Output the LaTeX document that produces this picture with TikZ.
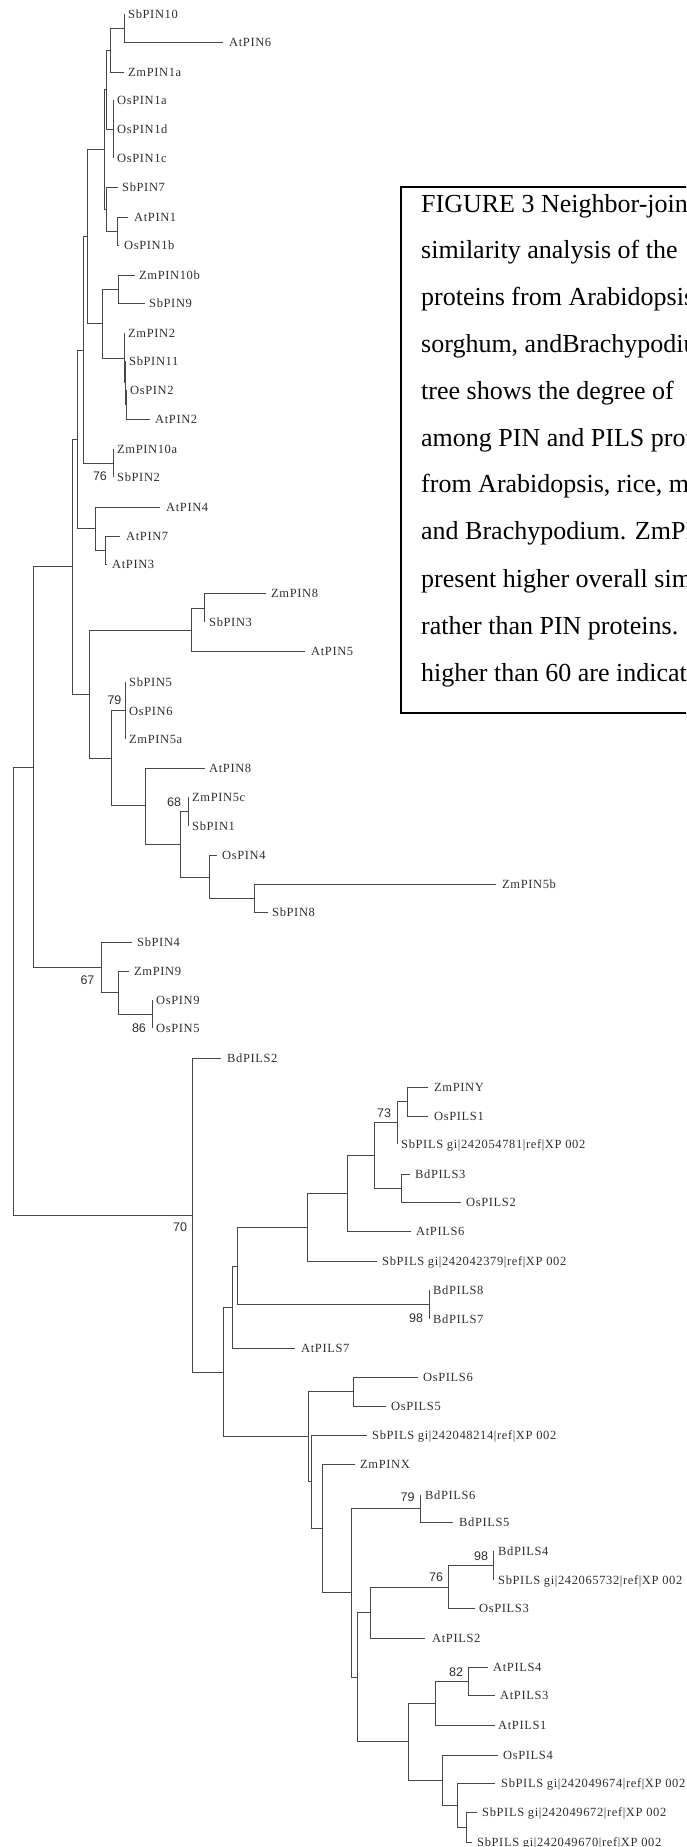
\documentclass[tikz,border=0pt]{standalone}
\usepackage{fontspec}
\setmainfont{Liberation Serif}
\newfontfamily\treefont[LetterSpace=5]{Liberation Serif}
\newfontfamily\bsfont{Liberation Sans}
\newcommand\lf[6]{\node[lbl] (#1) at ({#3+#4},#5) {#6};\draw[br,shorten >=#4pt] (#2) |- (#1.west);}
\begin{document}
\begin{tikzpicture}[x=1pt,y=-1pt,
  br/.style={draw=black!72,line width=1pt},
  lbl/.style={anchor=west,inner sep=0pt,text height=8pt,text depth=0pt,font=\treefont\fontsize{12.5}{14}\selectfont,text=black!82},
  bs/.style={inner sep=0pt,font=\bsfont\fontsize{12.5}{14}\selectfont,text=black!82},
  captxt/.style={anchor=base west,inner sep=0pt,font=\fontsize{26}{30}\selectfont}]
\useasboundingbox (0,0) rectangle (686,1847);
\begin{scope}
\clip (0,0) rectangle (686,1847);
% ---------- internal nodes ----------
\coordinate (A) at (124,28);
\coordinate (B) at (110,50);
\coordinate (C) at (113,129);
\coordinate (D) at (106,89.5);
\coordinate (F) at (117,231);
\coordinate (E) at (106,209);
\coordinate (G) at (104,149.5);
\coordinate (J) at (118,289);
\coordinate (K3) at (126,404.5);
\coordinate (K2) at (125,382.75);
\coordinate (K) at (124,358);
\coordinate (I) at (102,323.5);
\coordinate (H) at (87,236.5);
\coordinate (N76) at (113,463);
\coordinate (N) at (83,350);
\coordinate (M) at (105,550);
\coordinate (L) at (95,528.5);
\coordinate (O) at (77,439);
\coordinate (S) at (204,608.5);
\coordinate (R) at (191,630);
\coordinate (T) at (125,710.5);
\coordinate (Z) at (188,811);
\coordinate (AB) at (254,898.5);
\coordinate (AA) at (209,877);
\coordinate (Y) at (180,844);
\coordinate (X) at (145,805.5);
\coordinate (U) at (111,758);
\coordinate (Q) at (89,694);
\coordinate (P) at (72,566.5);
\coordinate (AD) at (152,1014);
\coordinate (AC) at (118,992.5);
\coordinate (W) at (101,967);
\coordinate (V) at (33,767);
\coordinate (root) at (13,991);
\coordinate (BA) at (407,1101.5);
\coordinate (BB) at (397,1122.5);
\coordinate (BD) at (401,1188);
\coordinate (BC) at (374,1155.5);
\coordinate (BE) at (347,1193.5);
\coordinate (BF) at (307,1227.5);
\coordinate (N98) at (429,1304.5);
\coordinate (AH) at (237,1266);
\coordinate (AG) at (232,1307);
\coordinate (AJ) at (353,1391.5);
\coordinate (AM) at (420,1508.5);
\coordinate (AR) at (493,1565.5);
\coordinate (AQ) at (448,1587);
\coordinate (AP) at (370,1612.5);
\coordinate (AS) at (468,1681);
\coordinate (AT) at (435,1703);
\coordinate (AX) at (466,1827);
\coordinate (AW) at (457,1805);
\coordinate (AV) at (442,1780);
\coordinate (AU) at (408,1741.5);
\coordinate (AO) at (357,1677);
\coordinate (AN) at (351,1592.5);
\coordinate (AL) at (322,1528);
\coordinate (AK) at (311,1481.5);
\coordinate (AI) at (308,1436.5);
\coordinate (AF) at (223,1372);
\coordinate (AE) at (192,1215);
% ---------- internal branches ----------
\draw[br] (B) |- (A);
\draw[br] (D) |- (B); \draw[br] (D) |- (C);
\draw[br] (E) |- (F);
\draw[br] (G) |- (D); \draw[br] (G) |- (E);
\draw[br] (H) |- (G); \draw[br] (H) |- (I);
\draw[br] (I) |- (J); \draw[br] (I) |- (K);
\draw[br] (K) |- (K2); \draw[br] (K2) |- (K3);
\draw[br] (N) |- (H); \draw[br] (N) |- (N76);
\draw[br] (O) |- (N); \draw[br] (O) |- (L);
\draw[br] (L) |- (M);
\draw[br] (P) |- (O); \draw[br] (P) |- (Q);
\draw[br] (Q) |- (R); \draw[br] (Q) |- (U);
\draw[br] (R) |- (S);
\draw[br] (U) |- (T); \draw[br] (U) |- (X);
\draw[br] (X) |- (Y);
\draw[br] (Y) |- (Z); \draw[br] (Y) |- (AA);
\draw[br] (AA) |- (AB);
\draw[br] (V) |- (P); \draw[br] (V) |- (W);
\draw[br] (W) |- (AC); \draw[br] (AC) |- (AD);
\draw[br] (root) |- (V); \draw[br] (root) |- (AE);
\draw[br] (AE) |- (AF);
\draw[br] (AF) |- (AG); \draw[br] (AF) |- (AI);
\draw[br] (AG) |- (AH);
\draw[br] (AH) |- (BF); \draw[br] (AH) |- (N98);
\draw[br] (BF) |- (BE);
\draw[br] (BE) |- (BC);
\draw[br] (BC) |- (BB); \draw[br] (BC) |- (BD);
\draw[br] (BB) |- (BA);
\draw[br] (AI) |- (AJ); \draw[br] (AI) |- (AK);
\draw[br] (AK) |- (AL);
\draw[br] (AL) |- (AN);
\draw[br] (AN) |- (AM); \draw[br] (AN) |- (AO);
\draw[br] (AO) |- (AP); \draw[br] (AO) |- (AU);
\draw[br] (AP) |- (AQ);
\draw[br] (AQ) |- (AR);
\draw[br] (AU) |- (AT); \draw[br] (AU) |- (AV);
\draw[br] (AT) |- (AS);
\draw[br] (AV) |- (AW);
\draw[br] (AW) |- (AX);
% ---------- leaves ----------
\lf{sbpin10}{A}{124}{4}{14}{SbPIN10}
\lf{atpin6}{A}{223}{6}{42}{AtPIN6}
\lf{zmpin1a}{B}{124}{4}{72}{ZmPIN1a}
\lf{ospin1a}{C}{113}{4}{100}{OsPIN1a}
\lf{ospin1d}{C}{113}{4}{129}{OsPIN1d}
\lf{ospin1c}{C}{113}{4}{158}{OsPIN1c}
\lf{sbpin7}{E}{118}{4}{187}{SbPIN7}
\lf{atpin1}{F}{128}{6}{217}{AtPIN1}
\lf{ospin1b}{F}{119}{5}{245}{OsPIN1b}
\lf{zmpin10b}{J}{135}{4}{275}{ZmPIN10b}
\lf{sbpin9}{J}{145}{4}{303}{SbPIN9}
\lf{zmpin2}{K}{124}{4}{333}{ZmPIN2}
\lf{sbpin11}{K2}{125}{4}{361}{SbPIN11}
\lf{ospin2}{K3}{126}{4}{390}{OsPIN2}
\lf{atpin2}{K3}{150}{5}{419}{AtPIN2}
\lf{zmpin10a}{N76}{113}{4}{449}{ZmPIN10a}
\lf{sbpin2}{N76}{113}{4}{477}{SbPIN2}
\lf{atpin4}{L}{160}{6}{507}{AtPIN4}
\lf{atpin7}{M}{120}{6}{536}{AtPIN7}
\lf{atpin3}{M}{107}{5}{564}{AtPIN3}
\lf{zmpin8}{S}{266}{5}{593}{ZmPIN8}
\lf{sbpin3}{S}{204}{5}{622}{SbPIN3}
\lf{atpin5}{R}{305}{6}{651}{AtPIN5}
\lf{sbpin5}{T}{125}{4}{682}{SbPIN5}
\lf{ospin6}{T}{125}{4}{711}{OsPIN6}
\lf{zmpin5a}{T}{125}{4}{739}{ZmPIN5a}
\lf{atpin8}{X}{205}{4}{768}{AtPIN8}
\lf{zmpin5c}{Z}{188}{4}{797}{ZmPIN5c}
\lf{sbpin1}{Z}{188}{4}{826}{SbPIN1}
\lf{ospin4}{AA}{217}{5}{855}{OsPIN4}
\lf{zmpin5b}{AB}{496}{6}{884}{ZmPIN5b}
\lf{sbpin8}{AB}{268}{4}{912}{SbPIN8}
\lf{sbpin4}{W}{132}{5}{942}{SbPIN4}
\lf{zmpin9}{AC}{129}{5}{971}{ZmPIN9}
\lf{ospin9}{AD}{152}{4}{1000}{OsPIN9}
\lf{ospin5}{AD}{152}{4}{1028}{OsPIN5}
\lf{bdpils2}{AE}{221}{6}{1058}{BdPILS2}
\lf{zmpiny}{BA}{428}{6}{1087}{ZmPINY}
\lf{ospils1}{BA}{428}{6}{1116}{OsPILS1}
\lf{sbpilsa}{BB}{397}{4}{1144}{SbPILS gi|242054781|ref|XP 002}
\lf{bdpils3}{BD}{410}{5}{1174}{BdPILS3}
\lf{ospils2}{BD}{461}{5}{1202}{OsPILS2}
\lf{atpils6}{BE}{411}{5}{1231}{AtPILS6}
\lf{sbpilsb}{BF}{377}{5}{1261}{SbPILS gi|242042379|ref|XP 002}
\lf{bdpils8}{N98}{429}{4}{1290}{BdPILS8}
\lf{bdpils7}{N98}{429}{4}{1319}{BdPILS7}
\lf{atpils7}{AG}{295}{6}{1348}{AtPILS7}
\lf{ospils6}{AJ}{418}{5}{1377}{OsPILS6}
\lf{ospils5}{AJ}{386}{5}{1406}{OsPILS5}
\lf{sbpilsc}{AK}{367}{5}{1435}{SbPILS gi|242048214|ref|XP 002}
\lf{zmpinx}{AL}{355}{5}{1464}{ZmPINX}
\lf{bdpils6}{AM}{420}{5}{1495}{BdPILS6}
\lf{bdpils5}{AM}{453}{6}{1522}{BdPILS5}
\lf{bdpils4}{AR}{493}{5}{1551}{BdPILS4}
\lf{sbpilsd}{AR}{493}{5}{1580}{SbPILS gi|242065732|ref|XP 002}
\lf{ospils3}{AQ}{475}{4}{1608}{OsPILS3}
\lf{atpils2}{AP}{425}{7}{1638}{AtPILS2}
\lf{atpils4}{AS}{488}{5}{1667}{AtPILS4}
\lf{atpils3}{AS}{495}{5}{1695}{AtPILS3}
\lf{atpils1}{AT}{495}{3}{1725}{AtPILS1}
\lf{ospils4}{AV}{498}{5}{1755}{OsPILS4}
\lf{sbpilse}{AW}{495}{6}{1783}{SbPILS gi|242049674|ref|XP 002}
\lf{sbpilsf}{AX}{477}{5}{1812}{SbPILS gi|242049672|ref|XP 002}
\lf{sbpilsg}{AX}{472}{5}{1842}{SbPILS gi|242049670|ref|XP 002}
% ---------- bootstrap values ----------
\node[bs] (b76a) at (100,476) {76};
\node[bs] (b79a) at (114.5,700) {79};
\node[bs] (b68) at (174,802) {68};
\node[bs] (b67) at (87.5,980) {67};
\node[bs] (b86) at (139,1028) {86};
\node[bs] (b70) at (180,1227) {70};
\node[bs] (b73) at (384,1113) {73};
\node[bs] (b98a) at (416,1318) {98};
\node[bs] (b79b) at (407.5,1497) {79};
\node[bs] (b98b) at (481,1556) {98};
\node[bs] (b76b) at (436,1577) {76};
\node[bs] (b82) at (456,1672) {82};
% ---------- caption ----------
\draw[line width=1.6pt,fill=white] (401,187) rectangle (720,713);
\node[captxt] (c1) at (421,212) {FIGURE 3 Neighbor-joining};
\node[captxt] (c2) at (421,258.8) {similarity analysis of the};
\node[captxt] (c3) at (421,305.6) {proteins from Arabidopsis};
\node[captxt] (c4) at (421,352.4) {sorghum, andBrachypodium};
\node[captxt] (c5) at (421,399.2) {tree shows the degree of};
\node[captxt] (c6) at (421,446) {among PIN and PILS proteins};
\node[captxt] (c7) at (421,492.8) {from Arabidopsis, rice, maize};
\node[captxt] (c8) at (421,539.6) {and Brachypodium. ZmPINX};
\node[captxt] (c9) at (421,587.4) {present higher overall similarity};
\node[captxt] (c10) at (421,634.2) {rather than PIN proteins.};
\node[captxt] (c11) at (421,681) {higher than 60 are indicated};
\end{scope}
\end{tikzpicture}
\end{document}
